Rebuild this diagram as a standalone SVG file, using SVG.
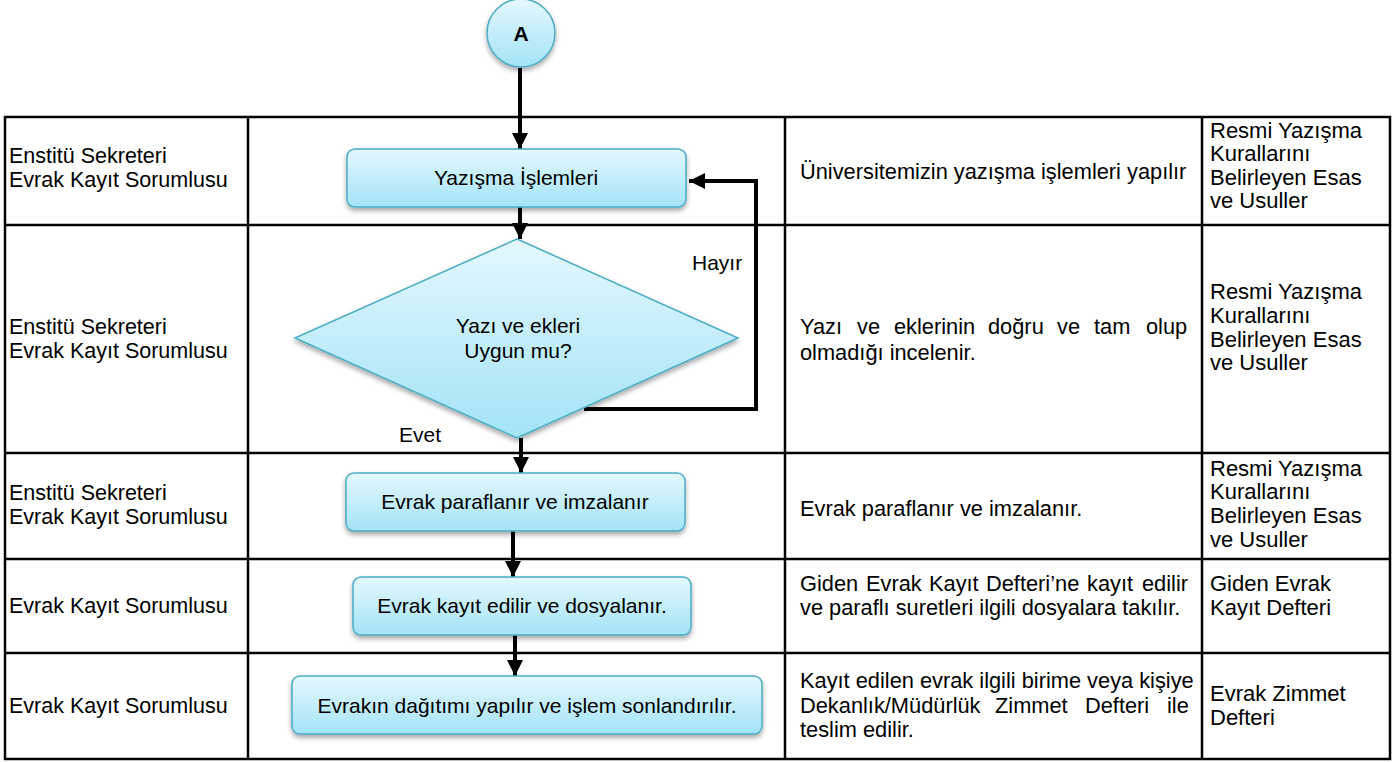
<svg xmlns="http://www.w3.org/2000/svg" width="1400" height="762" viewBox="0 0 1400 762">
<style>
text{font-family:"Liberation Sans",Arial,sans-serif;fill:#000}
.t{font-size:21.5px}
.c{font-size:21px;text-anchor:middle}
.l{font-size:21px}
.d{font-size:21.8px}
.r{font-size:22px}
.grid{stroke:#000;stroke-width:2.5;fill:none}
.node{fill:url(#g);stroke:#4bacc6;stroke-width:1.5;filter:url(#sh)}
.con{stroke:#000;stroke-width:4;fill:none}
</style>
<defs>
<linearGradient id="g" x1="0" y1="0" x2="0" y2="1">
<stop offset="0" stop-color="#e4f8fe"/>
<stop offset="1" stop-color="#a3e3f7"/>
</linearGradient>
<filter id="sh" x="-10%" y="-10%" width="120%" height="140%">
<feDropShadow dx="0" dy="3" stdDeviation="2.5" flood-color="#000" flood-opacity="0.35"/>
</filter>
<marker id="ah" markerWidth="4" markerHeight="4" refX="4" refY="2" orient="auto" markerUnits="strokeWidth">
<path d="M0,0 L4,2 L0,4 Z" fill="#000"/>
</marker>
</defs>
<rect width="1400" height="762" fill="#fff"/>
<g id="table">
<rect class="grid" x="5" y="117" width="1385" height="642"/>
<line class="grid" x1="248" y1="117" x2="248" y2="759"/>
<line class="grid" x1="785" y1="117" x2="785" y2="759"/>
<line class="grid" x1="1202" y1="117" x2="1202" y2="759"/>
<line class="grid" x1="5" y1="225" x2="1390" y2="225"/>
<line class="grid" x1="5" y1="453" x2="1390" y2="453"/>
<line class="grid" x1="5" y1="559" x2="1390" y2="559"/>
<line class="grid" x1="5" y1="653" x2="1390" y2="653"/>
</g>
<g id="responsible">
<text class="t" x="9" y="163">Enstitü Sekreteri</text>
<text class="t" x="9" y="187">Evrak Kayıt Sorumlusu</text>
<text class="t" x="9" y="334">Enstitü Sekreteri</text>
<text class="t" x="9" y="358">Evrak Kayıt Sorumlusu</text>
<text class="t" x="9" y="500">Enstitü Sekreteri</text>
<text class="t" x="9" y="524">Evrak Kayıt Sorumlusu</text>
<text class="t" x="9" y="613">Evrak Kayıt Sorumlusu</text>
<text class="t" x="9" y="713">Evrak Kayıt Sorumlusu</text>
</g>
<g id="descriptions">
<text class="d" x="800" y="179">Üniversitemizin yazışma işlemleri yapılır</text>
<text class="d" y="334"><tspan x="800">Yazı</tspan><tspan x="857">ve</tspan><tspan x="894">eklerinin</tspan><tspan x="988">doğru</tspan><tspan x="1057">ve</tspan><tspan x="1094">tam</tspan><tspan x="1146">olup</tspan></text>
<text class="d" x="800" y="360">olmadığı incelenir.</text>
<text class="d" x="800" y="516">Evrak paraflanır ve imzalanır.</text>
<text class="d" y="591"><tspan x="800">Giden</tspan><tspan x="866">Evrak</tspan><tspan x="929">Kayıt</tspan><tspan x="986">Defteri’ne</tspan><tspan x="1087">kayıt</tspan><tspan x="1142">edilir</tspan></text>
<text class="d" x="800" y="615">ve paraflı suretleri ilgili dosyalara takılır.</text>
<text class="d" x="800" y="688">Kayıt edilen evrak ilgili birime veya kişiye</text>
<text class="d" y="713"><tspan x="800">Dekanlık/Müdürlük</tspan><tspan x="995">Zimmet</tspan><tspan x="1085">Defteri</tspan><tspan x="1167">ile</tspan></text>
<text class="d" x="800" y="737">teslim edilir.</text>
</g>
<g id="references">
<text class="r" x="1210" y="138">Resmi Yazışma</text>
<text class="r" x="1210" y="161">Kurallarını</text>
<text class="r" x="1210" y="185">Belirleyen Esas</text>
<text class="r" x="1210" y="208">ve Usuller</text>
<text class="r" x="1210" y="299">Resmi Yazışma</text>
<text class="r" x="1210" y="323">Kurallarını</text>
<text class="r" x="1210" y="347">Belirleyen Esas</text>
<text class="r" x="1210" y="370">ve Usuller</text>
<text class="r" x="1210" y="476">Resmi Yazışma</text>
<text class="r" x="1210" y="499">Kurallarını</text>
<text class="r" x="1210" y="523">Belirleyen Esas</text>
<text class="r" x="1210" y="547">ve Usuller</text>
<text class="r" x="1210" y="591">Giden Evrak</text>
<text class="r" x="1210" y="615">Kayıt Defteri</text>
<text class="r" x="1210" y="701">Evrak Zimmet</text>
<text class="r" x="1210" y="725">Defteri</text>
</g>
<g id="connectors">
<line class="con" x1="520" y1="68" x2="520" y2="149" marker-end="url(#ah)"/>
<line class="con" x1="520" y1="207" x2="520" y2="239" marker-end="url(#ah)"/>
<line class="con" x1="521" y1="438" x2="521" y2="473" marker-end="url(#ah)"/>
<line class="con" x1="513" y1="531" x2="513" y2="577" marker-end="url(#ah)"/>
<line class="con" x1="515" y1="635" x2="515" y2="676" marker-end="url(#ah)"/>
<polyline class="con" points="584,409 756,409 756,181 689,181" marker-end="url(#ah)"/>
<text class="l" x="692" y="270">Hayır</text>
<text class="l" x="399" y="442">Evet</text>
</g>
<g id="nodeA">
<circle class="node" cx="521" cy="33" r="34"/>
<text class="c" x="521" y="41" font-weight="bold">A</text>
</g>
<g id="node1">
<rect class="node" x="347" y="149" width="339" height="58" rx="8"/>
<text class="c" x="516" y="185">Yazışma İşlemleri</text>
</g>
<g id="node2">
<polygon class="node" points="517,239 738,338 517,438 295,338"/>
<text class="c" x="518" y="333">Yazı ve ekleri</text>
<text class="c" x="518" y="358">Uygun mu?</text>
</g>
<g id="node3">
<rect class="node" x="346" y="473" width="339" height="58" rx="8"/>
<text class="c" x="515" y="509">Evrak paraflanır ve imzalanır</text>
</g>
<g id="node4">
<rect class="node" x="353" y="577" width="338" height="58" rx="8"/>
<text class="c" x="522" y="613">Evrak kayıt edilir ve dosyalanır.</text>
</g>
<g id="node5">
<rect class="node" x="292" y="676" width="470" height="58" rx="8"/>
<text class="c" x="527" y="713">Evrakın dağıtımı yapılır ve işlem sonlandırılır.</text>
</g>
</svg>
